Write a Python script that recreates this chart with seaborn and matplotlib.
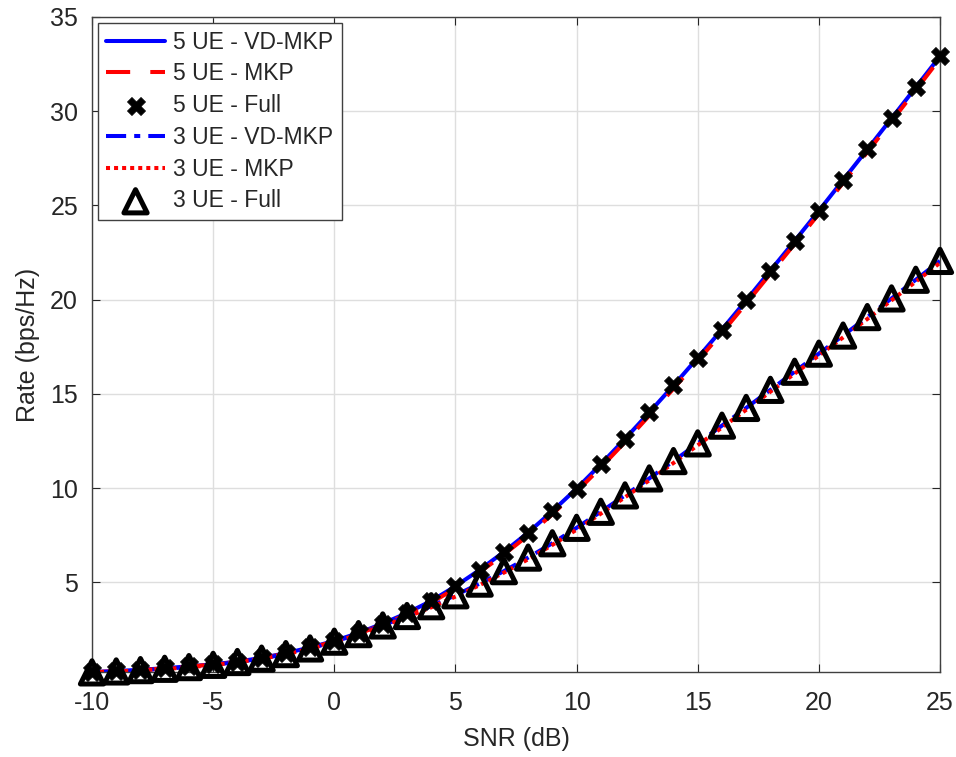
import numpy as np
import pandas as pd
import matplotlib
matplotlib.use('Agg')
import matplotlib.pyplot as plt
import seaborn as sns

# --- datos ---
snr = list(range(-10, 26))

rate_5ue_vd = [0.25, 0.30, 0.37, 0.45, 0.55, 0.66, 0.80, 1.00, 1.25, 1.55,
               1.90, 2.32, 2.82, 3.38, 4.02, 4.80, 5.67, 6.62, 7.65, 8.78,
               9.98, 11.27, 12.62, 14.02, 15.45, 16.92, 18.42, 19.97, 21.55, 23.12,
               24.72, 26.35, 27.98, 29.62, 31.27, 32.92]
rate_5ue_mkp = [0.24, 0.29, 0.36, 0.44, 0.54, 0.65, 0.79, 0.98, 1.23, 1.52,
                1.87, 2.28, 2.76, 3.30, 3.93, 4.68, 5.55, 6.48, 7.50, 8.62,
                9.82, 11.10, 12.45, 13.85, 15.28, 16.75, 18.25, 19.80, 21.38, 22.96,
                24.56, 26.20, 27.83, 29.47, 31.12, 32.80]
rate_5ue_full = [0.25, 0.30, 0.37, 0.45, 0.55, 0.66, 0.80, 1.00, 1.25, 1.55,
                 1.90, 2.32, 2.82, 3.38, 4.02, 4.80, 5.67, 6.62, 7.65, 8.78,
                 9.98, 11.27, 12.62, 14.02, 15.45, 16.92, 18.42, 19.97, 21.55, 23.12,
                 24.72, 26.35, 27.98, 29.62, 31.27, 32.92]

rate_3ue_vd = [0.23, 0.28, 0.35, 0.42, 0.51, 0.63, 0.78, 0.96, 1.20, 1.50,
               1.86, 2.26, 2.72, 3.22, 3.74, 4.32, 4.94, 5.60, 6.32, 7.08,
               7.90, 8.75, 9.62, 10.52, 11.44, 12.38, 13.32, 14.26, 15.22, 16.18,
               17.14, 18.10, 19.08, 20.07, 21.06, 22.06]
rate_3ue_mkp = [0.23, 0.28, 0.34, 0.41, 0.50, 0.62, 0.77, 0.95, 1.19, 1.48,
                1.84, 2.23, 2.68, 3.17, 3.68, 4.25, 4.86, 5.52, 6.23, 6.99,
                7.80, 8.65, 9.52, 10.42, 11.34, 12.28, 13.22, 14.16, 15.12, 16.08,
                17.04, 18.00, 18.98, 19.97, 20.96, 21.96]
rate_3ue_full = [0.23, 0.28, 0.35, 0.42, 0.51, 0.63, 0.78, 0.96, 1.20, 1.50,
                 1.86, 2.26, 2.72, 3.22, 3.74, 4.32, 4.94, 5.60, 6.32, 7.08,
                 7.90, 8.75, 9.62, 10.52, 11.44, 12.38, 13.32, 14.26, 15.22, 16.18,
                 17.14, 18.10, 19.08, 20.07, 21.06, 22.06]

x_ticks = [-10, -5, 0, 5, 10, 15, 20, 25]
y_ticks = [5, 10, 15, 20, 25, 30, 35]

df = pd.DataFrame({'snr': snr,
                   '5vd': rate_5ue_vd, '5mkp': rate_5ue_mkp, '5full': rate_5ue_full,
                   '3vd': rate_3ue_vd, '3mkp': rate_3ue_mkp, '3full': rate_3ue_full})

# --- estilo ---
sns.set_style('whitegrid')
plt.rcParams['font.family'] = ['Liberation Sans', 'DejaVu Sans']
plt.rcParams['axes.unicode_minus'] = False

fig = plt.figure(figsize=(9.56, 7.57), dpi=100)
ax = fig.add_axes([92 / 956, 1 - 672 / 757, (940 - 92) / 956, (672 - 17) / 757])

lw = 2.9
sns.lineplot(data=df, x='snr', y='5vd', ax=ax, color='blue', lw=lw,
             label='5 UE - VD-MKP')
sns.lineplot(data=df, x='snr', y='5mkp', ax=ax, color='red', lw=lw,
             label='5 UE - MKP').lines[-1].set_linestyle((0, (6, 5)))
sns.scatterplot(data=df, x='snr', y='5full', ax=ax, marker='X', s=170,
                color='black', edgecolor='black', linewidth=0.5, zorder=5,
                clip_on=False, label='5 UE - Full')
sns.lineplot(data=df, x='snr', y='3vd', ax=ax, color='blue', lw=lw,
             label='3 UE - VD-MKP').lines[-1].set_linestyle((0, (5, 2, 1.5, 2)))
sns.lineplot(data=df, x='snr', y='3mkp', ax=ax, color='red', lw=lw,
             label='3 UE - MKP').lines[-1].set_linestyle((0, (1, 1)))
sns.scatterplot(data=df, x='snr', y='3full', ax=ax, marker='^', s=280,
                facecolor='none', edgecolor='black', linewidth=3.6, zorder=5,
                clip_on=False, label='3 UE - Full')

ax.set_xlim(-10, 25)
ax.set_ylim(0.25, 35)
ax.set_xticks(x_ticks)
ax.set_yticks(y_ticks)
ax.tick_params(direction='in', length=6, labelsize=18, colors='#262626',
               top=True, right=True, bottom=True, left=True)
ax.tick_params(axis='x', pad=14)
ax.tick_params(axis='y', pad=10)
ax.set_xlabel('SNR (dB)', fontsize=18, color='#262626', labelpad=8)
ax.set_ylabel('Rate (bps/Hz)', fontsize=18, color='#262626', labelpad=7)
ax.grid(True, color='#dedede', linewidth=1)
for s in ax.spines.values():
    s.set_color('#404040')
    s.set_linewidth(1)

leg = ax.legend(loc='upper left', fontsize=16.5, frameon=True, fancybox=False,
                edgecolor='#404040', framealpha=1, handlelength=2.6,
                borderaxespad=0.25, labelspacing=0.38, handletextpad=0.35,
                borderpad=0.35)
leg.get_frame().set_linewidth(1)

fig.savefig('out.png', dpi=100)
